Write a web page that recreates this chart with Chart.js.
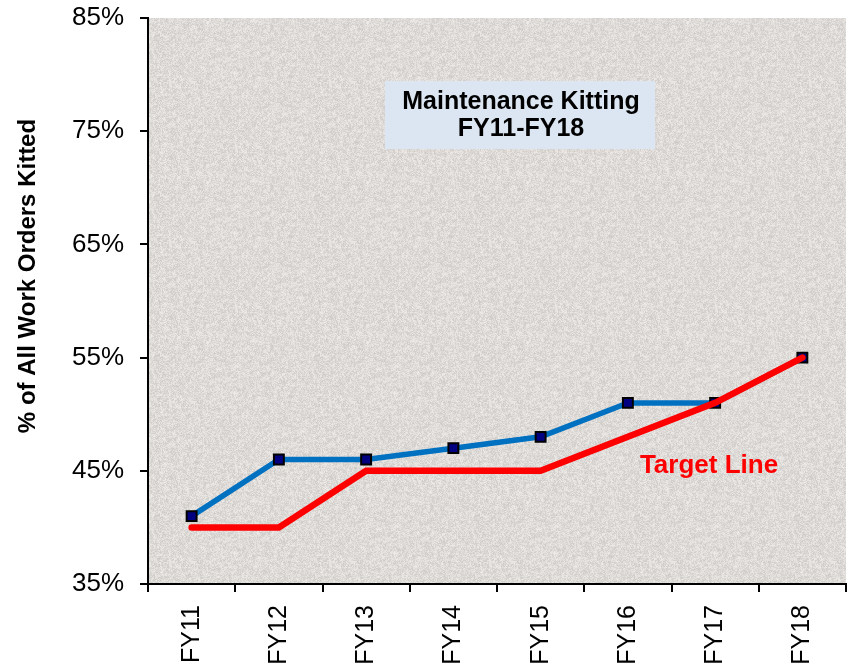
<!DOCTYPE html>
<html>
<head>
<meta charset="utf-8">
<script src="https://cdn.jsdelivr.net/npm/chart.js@4.4.1/dist/chart.umd.min.js"></script>
<style>
  html, body { margin: 0; padding: 0; background: #fff; }
  #wrap { width: 847px; height: 665px; }
</style>
</head>
<body>
<div id="wrap"><canvas id="chart" width="847" height="665"></canvas></div>
<script>
const years = ["FY11", "FY12", "FY13", "FY14", "FY15", "FY16", "FY17", "FY18"];
const kitted = [41, 46, 46, 47, 48, 51, 51, 55];
const target = [40, 40, 45, 45, 45, 48, 51, 55];
const yTicks = [35, 45, 55, 65, 75, 85];

const FONT = "'Liberation Sans', Arial, sans-serif";

// granite-like texture for the plot area
function makeTexture() {
  const c = document.createElement("canvas");
  c.width = 160; c.height = 160;
  const g = c.getContext("2d");
  const img = g.createImageData(160, 160);
  let s = 12345;
  const next = () => { s = (s * 1103515245 + 12345) & 0x7fffffff; return s / 0x7fffffff; };
  for (let i = 0; i < 160 * 160; i++) {
    const v = 196 + next() * 46;
    img.data[i * 4] = v + 3;
    img.data[i * 4 + 1] = v;
    img.data[i * 4 + 2] = v - 3;
    img.data[i * 4 + 3] = 255;
  }
  g.putImageData(img, 0, 0);
  g.globalAlpha = 0.45;
  g.filter = "blur(1px)";
  g.drawImage(c, 0, 0);
  return c;
}

const bgPlugin = {
  id: "bg",
  beforeDraw(chart) {
    const { ctx, chartArea: a } = chart;
    ctx.save();
    ctx.fillStyle = ctx.createPattern(makeTexture(), "repeat");
    ctx.fillRect(a.left, a.top, a.right - a.left, a.bottom - a.top);
    ctx.restore();
  },
  afterDraw(chart) {
    const { ctx } = chart;
    ctx.save();
    // title box
    ctx.fillStyle = "#dce6f2";
    ctx.fillRect(385, 81, 270, 68);
    ctx.fillStyle = "#000";
    ctx.font = "bold 25px " + FONT;
    ctx.textAlign = "center";
    ctx.textBaseline = "middle";
    ctx.fillText("Maintenance Kitting", 521, 102);
    ctx.fillText("FY11-FY18", 521, 129);
    // target line label
    ctx.fillStyle = "#ff0000";
    ctx.font = "bold 26px " + FONT;
    ctx.fillText("Target Line", 709, 466);
    // y axis title
    ctx.fillStyle = "#000";
    ctx.font = "bold 24px " + FONT;
    ctx.translate(28, 276);
    ctx.rotate(-Math.PI / 2);
    ctx.fillText("% of All Work Orders Kitted", 0, 0);
    ctx.restore();
  }
};

new Chart(document.getElementById("chart"), {
  type: "line",
  data: {
    labels: years,
    datasets: [
      {
        label: "Kitted",
        data: kitted,
        borderColor: "#0070c0",
        borderWidth: 5.5,
        pointStyle: "rect",
        pointRadius: 7,
        pointBackgroundColor: "#000080",
        pointBorderColor: "#000",
        pointBorderWidth: 2,
        tension: 0,
        order: 2
      },
      {
        label: "Target Line",
        data: target,
        borderColor: "#ff0000",
        borderWidth: 6.5,
        pointRadius: 0,
        borderCapStyle: "round",
        tension: 0,
        order: 1
      }
    ]
  },
  options: {
    responsive: false,
    animation: false,
    layout: { autoPadding: false, padding: { top: 18, right: 1 } },
    plugins: {
      legend: { display: false },
      tooltip: { enabled: false }
    },
    scales: {
      x: {
        offset: true,
        grid: {
          offset: true,
          drawOnChartArea: false,
          color: "#000",
          lineWidth: 2,
          tickLength: 8
        },
        border: { color: "#000", width: 2 },
        ticks: {
          color: "#000",
          font: { family: FONT, size: 25 },
          minRotation: 90,
          maxRotation: 90,
          padding: 13
        },
        afterFit(scale) {
          scale.height = 81;
          scale.paddingLeft = 0;
          scale.paddingRight = 0;
        }
      },
      y: {
        min: 35,
        max: 85,
        afterBuildTicks(scale) { scale.ticks = yTicks.map(v => ({ value: v })); },
        grid: {
          drawOnChartArea: false,
          color: "#000",
          lineWidth: 2,
          tickLength: 8
        },
        border: { color: "#000", width: 2 },
        ticks: {
          color: "#000",
          font: { family: FONT, size: 26 },
          padding: 16,
          callback: v => v + "%"
        },
        afterFit(scale) {
          scale.width = 148;
          scale.paddingTop = 0;
          scale.paddingBottom = 0;
        }
      }
    }
  },
  plugins: [bgPlugin]
});
</script>
</body>
</html>
